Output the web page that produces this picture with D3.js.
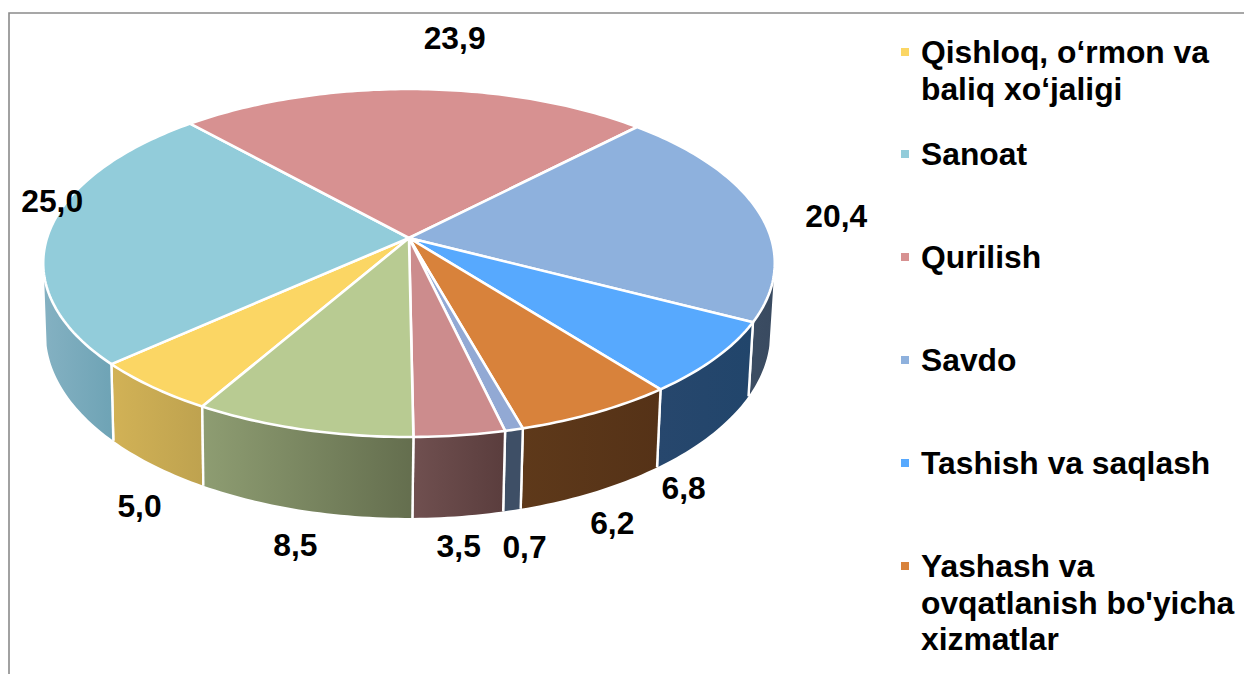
<!DOCTYPE html>
<html>
<head>
<meta charset="utf-8">
<script src="https://cdn.jsdelivr.net/npm/d3@7"></script>
<style>
  html, body { margin: 0; padding: 0; background: #fff; }
  svg { display: block; }
  text { font-family: "Liberation Sans", Arial, sans-serif; font-weight: bold; fill: #000; }
</style>
</head>
<body>
<svg id="chart" width="1244" height="674"></svg>
<script>
// slices in clockwise order, starting from the yellow one
const values = [5.0, 25.0, 23.9, 20.4, 6.8, 6.2, 0.7, 3.5, 8.5];
const legendItems = [
    ["Qishloq, o‘rmon va", "baliq xo‘jaligi"],
    ["Sanoat"],
    ["Qurilish"],
    ["Savdo"],
    ["Tashish va saqlash"],
    ["Yashash va", "ovqatlanish bo'yicha", "xizmatlar"]
];
const topColors = ["#FBD664", "#92CCDA", "#D79191", "#8EB1DD", "#57A9FE", "#D8823B", "#92A9D4", "#CC8C8D", "#B8CB92"];
const wallLeft = ["#D2B256", "#84B1C2", "#7A5A5A", "#3C4D63", "#27476D", "#5E391A", "#3E4F66", "#705050", "#8E9D72"];
const wallRight = ["#BEA24F", "#6EA3B5", "#7A5A5A", "#394A60", "#21456B", "#553217", "#3E4F66", "#5A3D3D", "#646E4E"];

// label nudges from the slice's rim point, same order as values
const labelNudge = [[-13, 118], [2, -29], [40, -51.5], [78, 4.5], [-32, 130], [15.5, 110.5], [10.5, 116.5], [-1, 110], [-7, 115.5]];

const deg = Math.PI / 180;
const cx = 409, cy = 238;
const k = 0.1437, A = 362, B = 170.4; // tilt of the disc
const wallScaleX = 0.99, wallScaleY = 1.06, wallBaseY = 307, wallCx = 408;
const wallStart = 102 * deg, wallEnd = 258 * deg; // visible part of the rim
const firstAngle = 210.0;

function topPoint(a, r = 1) {
    const u = Math.sin(a) * r, v = Math.cos(a) * r;
    const w = 1 + k * v;
    return [cx + A * u / w, cy - B * v / w];
}

function bottomPoint(a) {
    const u = Math.sin(a), v = Math.cos(a);
    const w = 1 + k * v;
    return [wallCx + A * wallScaleX * u / w, wallBaseY - B * wallScaleY * v / w];
}

function arcAngles(a0, a1) {
    const n = Math.max(2, Math.ceil((a1 - a0) / deg));
    return d3.range(n + 1).map(i => a0 + (a1 - a0) * i / n);
}

const svg = d3.select("#chart");
const line = d3.line();
const defs = svg.append("defs");

const pie = d3.pie().sort(null).startAngle(firstAngle * deg).endAngle((firstAngle + 360) * deg);
const arcs = pie(values);

// frame
svg.append("path").attr("d", "M9,674V13H1244").attr("fill", "none").attr("stroke", "#8a8a8a").attr("stroke-width", 1.6);

// side walls
const wallG = svg.append("g");
arcs.forEach((d, i) => {
    defs.append("linearGradient").attr("id", "wall" + i)
        .selectAll("stop").data([wallLeft[i], wallRight[i]]).join("stop")
        .attr("offset", (c, j) => j).attr("stop-color", c => c);

    // the rim is visible in two angle ranges because the pie starts past 180 degrees
    [[wallStart, wallEnd], [wallStart + 2 * Math.PI, wallEnd + 2 * Math.PI]].forEach(([lo, hi]) => {
        const a0 = Math.max(d.startAngle, lo), a1 = Math.min(d.endAngle, hi);
        if (a1 <= a0) return;
        const angles = arcAngles(a0, a1);
        const pts = angles.map(a => topPoint(a)).concat(angles.slice().reverse().map(a => bottomPoint(a)));
        wallG.append("path").attr("d", line(pts) + "Z").attr("fill", `url(#wall${i})`);
        [a0, a1].forEach(a => {
            if (a === lo || a === hi) return;
            wallG.append("path").attr("d", line([topPoint(a), bottomPoint(a)]))
                .attr("stroke", "#fff").attr("stroke-width", 2.4).attr("fill", "none");
        });
    });
});

// top of the pie
svg.append("g").selectAll("path").data(arcs).join("path")
    .attr("d", d => line([[cx, cy]].concat(arcAngles(d.startAngle, d.endAngle).map(a => topPoint(a)))) + "Z")
    .attr("fill", (d, i) => topColors[i])
    .attr("stroke", "#fff").attr("stroke-width", 2.6).attr("stroke-linejoin", "round");

// value labels
svg.append("g").selectAll("text").data(arcs).join("text")
    .attr("x", (d, i) => topPoint((d.startAngle + d.endAngle) / 2)[0] + labelNudge[i][0])
    .attr("y", (d, i) => topPoint((d.startAngle + d.endAngle) / 2)[1] + labelNudge[i][1])
    .attr("text-anchor", "middle").attr("dy", "0.36em")
    .attr("font-size", 31.8)
    .text(d => d.value.toFixed(1).replace(".", ","));

// legend
const legendBase = [63, 165, 268, 371, 474, 577];
const legend = svg.append("g").selectAll("g").data(legendItems).join("g");
legend.append("rect")
    .attr("x", 901).attr("y", (d, i) => legendBase[i] - 15)
    .attr("width", 8).attr("height", 8)
    .attr("fill", (d, i) => topColors[i]);
legend.each(function (lines, i) {
    d3.select(this).selectAll("text").data(lines).join("text")
        .attr("x", 921).attr("y", (d, j) => legendBase[i] + j * 36.7)
        .attr("font-size", 31.8).text(d => d);
});
</script>
</body>
</html>
